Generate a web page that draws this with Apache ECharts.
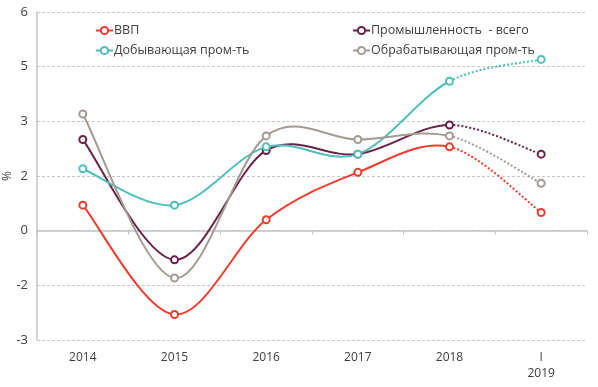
<!DOCTYPE html>
<html>
<head>
<meta charset="utf-8">
<script src="https://cdn.jsdelivr.net/npm/echarts@6/dist/echarts.min.js"></script>
<style>
  html, body { margin: 0; padding: 0; background: #fff; }
  #main { width: 598px; height: 387px; }
</style>
</head>
<body>
<div id="main"></div>
<script>
// categories
const years = ['2014', '2015', '2016', '2017', '2018', 'I\n2019'];
// series values, % (2019 = first quarter, last segment dotted)
const gdp      = [0.7, -2.3, 0.3, 1.6, 2.3, 0.5];
const industry = [2.5, -0.8, 2.2, 2.1, 2.9, 2.1];
const mining   = [1.7, 0.7, 2.3, 2.1, 4.1, 4.7];
const manuf    = [3.2, -1.3, 2.6, 2.5, 2.6, 1.3];
// y ticks
const yMin = -3, yMax = 6, yStep = 1.5;

const names = ['ВВП', 'Промышленность  - всего', 'Добывающая пром-ть', 'Обрабатывающая пром-ть'];
const colors = ['#F03C2D', '#6A2148', '#4FBFBF', '#A39B91'];
const values = [gdp, industry, mining, manuf];

const txt = '#404040';
const font = '"Open Sans", "DejaVu Sans", sans-serif';

// smooth curve like the spreadsheet one: catmull-rom segments, one per data item
function curveRenderer(arr, color) {
    return function (params, api) {
        const i = params.dataIndex;
        const n = arr.length;
        const pt = j => api.coord([Math.max(0, Math.min(n - 1, j)), arr[Math.max(0, Math.min(n - 1, j))]]);
        const p0 = pt(i - 1), p1 = pt(i), p2 = pt(i + 1), p3 = pt(i + 2);
        const dotted = i === n - 2;
        return {
            type: 'bezierCurve',
            shape: {
                x1: p1[0], y1: p1[1],
                x2: p2[0], y2: p2[1],
                cpx1: p1[0] + (p2[0] - p0[0]) / 6,
                cpy1: p1[1] + (p2[1] - p0[1]) / 6,
                cpx2: p2[0] - (p3[0] - p1[0]) / 6,
                cpy2: p2[1] - (p3[1] - p1[1]) / 6
            },
            style: {
                stroke: color,
                fill: null,
                lineWidth: 2,
                lineDash: dotted ? [2, 2] : null
            }
        };
    };
}

let series = [];
values.forEach((arr, k) => {
    series.push({
        name: names[k] + ' (кривая)',
        type: 'custom',
        renderItem: curveRenderer(arr, colors[k]),
        data: arr.slice(0, arr.length - 1).map((v, i) => [i, v]),
        encode: {x: 0, y: 1},
        silent: true,
        z: 3 + k
    });
    series.push({
        name: names[k],
        type: 'line',
        data: arr,
        symbol: 'emptyCircle',
        symbolSize: 7,
        color: colors[k],
        lineStyle: {width: 2, opacity: 0},
        itemStyle: {borderWidth: 1.8},
        z: 10 + k
    });
});

const legendCommon = {
    orient: 'vertical',
    top: 24,
    padding: 0,
    itemWidth: 17,
    itemHeight: 9,
    itemGap: 7,
    lineStyle: {opacity: 1, width: 2},
    textStyle: {color: txt, fontSize: 12.5, fontFamily: font, padding: [0, 0, 0, -4]}
};

const myChart = echarts.init(document.getElementById('main'));
myChart.setOption({
    animation: false,
    textStyle: {fontFamily: font},
    grid: {left: 37, right: 11, top: 12, bottom: 47, containLabel: false, outerBoundsMode: 'none'},
    legend: [
        Object.assign({left: 95, data: [names[0], names[2]]}, legendCommon),
        Object.assign({left: 352, data: [names[1], names[3]]}, legendCommon)
    ],
    xAxis: [
        {
            type: 'category',
            data: years,
            position: 'bottom',
            axisLine: {onZero: true, lineStyle: {color: '#c4c4c4', width: 1.5}},
            axisTick: {show: true, length: 4, lineStyle: {color: '#c4c4c4'}},
            axisLabel: {show: false},
            splitLine: {show: false}
        },
        {
            type: 'category',
            data: years,
            position: 'bottom',
            axisLine: {show: false, onZero: false},
            axisTick: {show: false},
            axisLabel: {color: txt, fontSize: 12, fontFamily: font, margin: 10, lineHeight: 16},
            splitLine: {show: false}
        }
    ],
    yAxis: {
        type: 'value',
        min: yMin,
        max: yMax,
        interval: yStep,
        name: '%',
        nameLocation: 'middle',
        nameGap: 23,
        nameRotate: 90,
        nameMoveOverlap: false,
        nameTextStyle: {color: txt, fontSize: 12, fontFamily: font},
        axisLine: {show: true, lineStyle: {color: '#c4c4c4', width: 1.5}},
        axisTick: {show: false},
        axisLabel: {
            color: txt, fontSize: 13, fontFamily: font, margin: 9,
            formatter: v => v.toFixed(0)
        },
        splitLine: {lineStyle: {color: '#c8c8c8', type: [3, 2], width: 1}}
    },
    series: series
});
</script>
</body>
</html>
